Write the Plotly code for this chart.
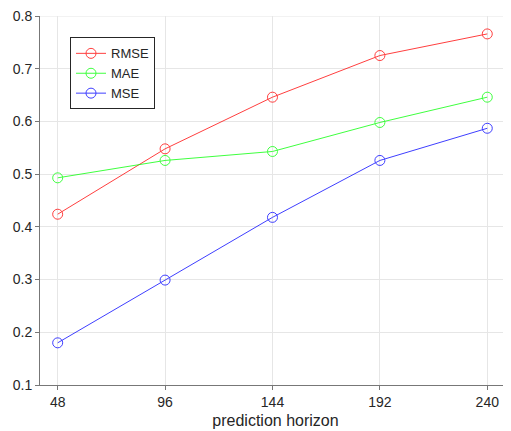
import plotly.graph_objects as go

horizon = [48, 96, 144, 192, 240]
rmse = [0.424, 0.548, 0.646, 0.725, 0.766]
mae = [0.493, 0.526, 0.543, 0.598, 0.646]
mse = [0.180, 0.299, 0.418, 0.526, 0.587]
x_ticks = [48, 96, 144, 192, 240]
y_ticks = [0.1, 0.2, 0.3, 0.4, 0.5, 0.6, 0.7, 0.8]

series = [("RMSE", rmse, "#ff0000"), ("MAE", mae, "#00ff00"), ("MSE", mse, "#0000ff")]

fig = go.Figure()
for name, vals, col in series:
    fig.add_trace(go.Scatter(
        x=horizon, y=vals, name=name, mode="lines+markers",
        line=dict(color=col, width=1),
        marker=dict(symbol="circle-open", size=10, color=col, line=dict(width=1, color=col)),
        opacity=0.75,
    ))

axis_common = dict(
    showgrid=True, gridcolor="#e6e6e6", gridwidth=1,
    showline=True, linecolor="#777777", linewidth=1,
    ticks="outside", ticklen=4, tickcolor="#777777",
    tickfont=dict(family="Liberation Sans, Arial", size=14, color="#262626"),
    zeroline=False, automargin=False, ticklabeloverflow="allow",
)

# top grid line at the upper y limit
fig.add_shape(type="line", xref="paper", yref="y", x0=0, x1=1,
              y0=y_ticks[-1], y1=y_ticks[-1],
              line=dict(color="#e6e6e6", width=1), layer="below")

# page body has an 8px margin, so the figure is offset by 8px
fig.update_layout(
    width=503, height=423,
    margin=dict(l=32, r=0, t=8, b=46, autoexpand=False),
    paper_bgcolor="white", plot_bgcolor="white",
    xaxis=dict(range=[40.1, 250.6], tickvals=x_ticks,
               title=dict(text="prediction horizon", standoff=6,
                          font=dict(family="Liberation Sans, Arial", size=16, color="#262626")),
               **axis_common),
    yaxis=dict(range=[0.1, 0.8], tickvals=y_ticks, tickformat=".1f", **axis_common),
    legend=dict(x=0.0637, y=0.942, xref="paper", yref="paper",
                xanchor="left", yanchor="top",
                bgcolor="white", bordercolor="#262626", borderwidth=1,
                font=dict(family="Liberation Sans, Arial", size=13, color="#262626"),
                tracegroupgap=0, itemwidth=30),
    showlegend=True,
)

fig.write_html("out.html")
